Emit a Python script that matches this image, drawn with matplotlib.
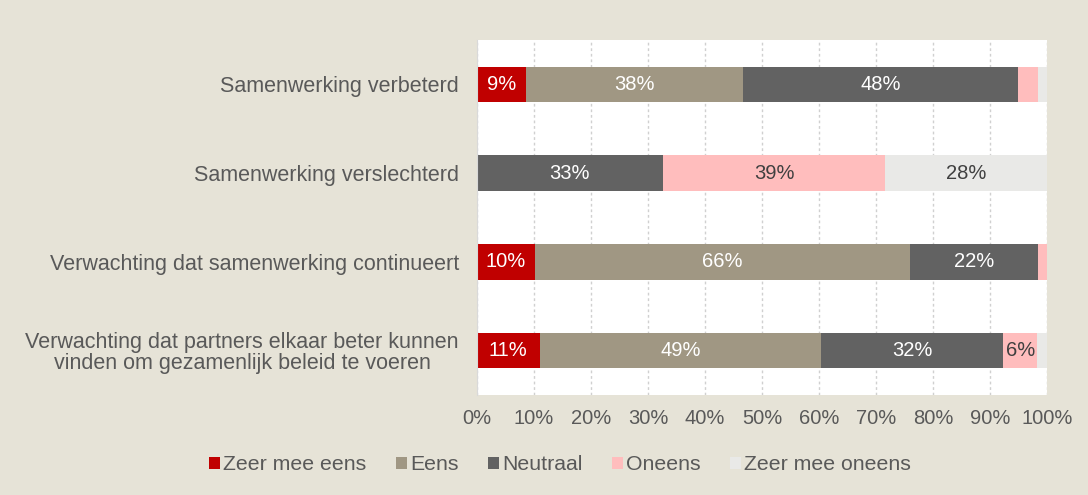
import matplotlib
matplotlib.use("Agg")
import matplotlib.pyplot as plt
from matplotlib.patches import Patch
import numpy as np

plt.rcParams['font.family'] = ['Liberation Sans', 'DejaVu Sans']

categories = [
    "Samenwerking verbeterd",
    "Samenwerking verslechterd",
    "Verwachting dat samenwerking continueert",
    "Verwachting dat partners elkaar beter kunnen\nvinden om gezamenlijk beleid te voeren",
]
series_names = ["Zeer mee eens", "Eens", "Neutraal", "Oneens", "Zeer mee oneens"]
zeer_mee_eens = [8.6, 0.0, 10.2, 11.0]
eens = [38.1, 0.0, 65.8, 49.4]
neutraal = [48.2, 32.6, 22.4, 31.9]
oneens = [3.5, 39.0, 1.6, 6.0]
zeer_mee_oneens = [1.6, 28.4, 0.0, 1.7]
series_values = [zeer_mee_eens, eens, neutraal, oneens, zeer_mee_oneens]
tick_values = [0, 10, 20, 30, 40, 50, 60, 70, 80, 90, 100]
tick_labels = [f"{t}%" for t in tick_values]

colors = ["#C00000", "#A09783", "#626262", "#FFBDBD", "#E9E9E7"]
label_colors = ["white", "white", "white", "#404040", "#404040"]
bg = "#E6E3D7"

fig = plt.figure(figsize=(10.88, 4.95), dpi=100, facecolor=bg)
ax = fig.add_axes([477/1088, 1 - 395/495, 570/1088, 355/495])
ax.set_facecolor("white")

y = np.arange(len(categories))
left = np.zeros(len(categories))
for name, vals, c, lc in zip(series_names, series_values, colors, label_colors):
    vals = np.array(vals)
    ax.barh(y, vals, left=left, height=0.4, color=c, label=name, zorder=3)
    for yi, l, v in zip(y, left, vals):
        if v >= 5:
            ax.text(l + v / 2, yi, f"{v:.0f}%", ha="center", va="center",
                    color=lc, fontsize=14.5, zorder=4)
    left = left + vals

ax.set_xlim(0, 100)
ax.set_ylim(3.5, -0.5)
ax.set_xticks(tick_values)
ax.set_xticklabels(tick_labels)
ax.set_yticks(y)
ax.set_yticklabels(categories)
for t in ax.get_yticklabels():
    t.set_multialignment("center")
    t.set_linespacing(1.0)
ax.tick_params(axis="both", length=0, labelcolor="#595959")
ax.tick_params(axis="y", pad=13, labelsize=15.5)
ax.tick_params(axis="x", pad=10, labelsize=14.5)
ax.xaxis.grid(True, color="#D0D0D0", linestyle=(0, (2, 2)), linewidth=1, zorder=0)
for s in ["top", "right", "bottom"]:
    ax.spines[s].set_visible(False)
ax.spines["left"].set_color("#D9D9D9")
ax.spines["left"].set_zorder(5)

handles = [Patch(facecolor=c, edgecolor="none") for c in colors]
fig.legend(handles, series_names, loc="center", bbox_to_anchor=(560/1088, 1 - 465/495),
           ncol=5, frameon=False, fontsize=15.3, labelcolor="#595959",
           handlelength=0.5, handleheight=0.5, handletextpad=0.15, columnspacing=1.4)

fig.savefig("out.png", dpi=100, facecolor=bg)
